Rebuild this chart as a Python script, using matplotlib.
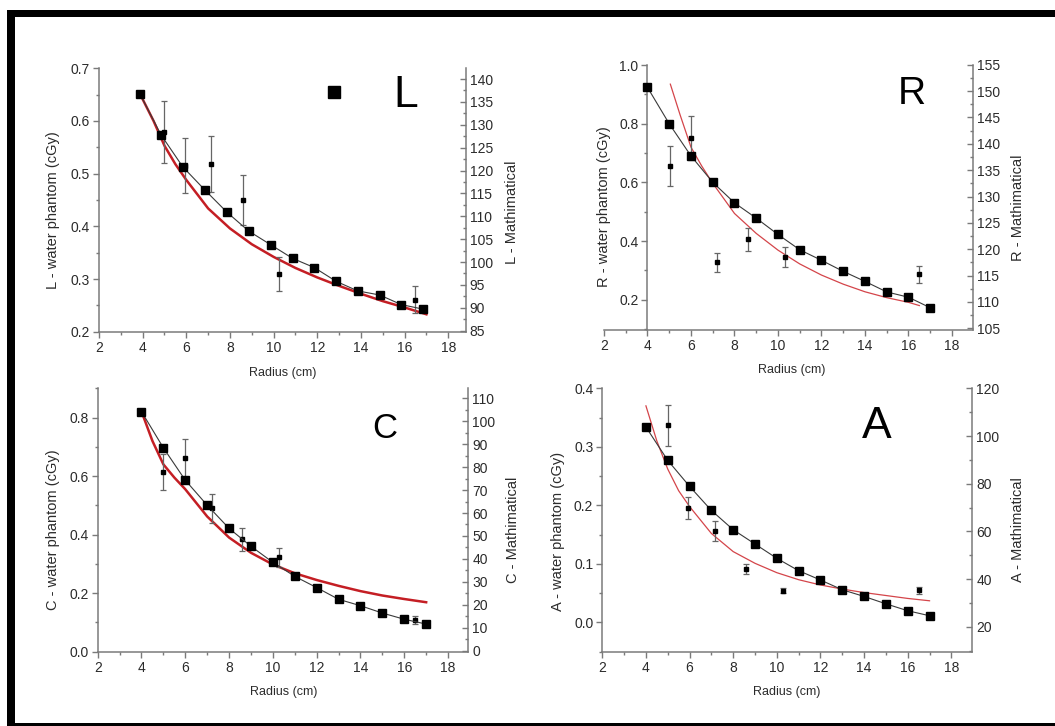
import matplotlib
matplotlib.use("Agg")
import matplotlib.pyplot as plt
from matplotlib.patches import Rectangle
from matplotlib.lines import Line2D
from matplotlib.ticker import MultipleLocator, FormatStrFormatter

plt.rcParams['font.family'] = ['Liberation Sans', 'DejaVu Sans']

# ---------------- data ----------------
radius = [4, 5, 6, 7, 8, 9, 10, 11, 12, 13, 14, 15, 16, 17]

# L panel
math_x_L = [3.87, 4.84, 5.84, 6.86, 7.86, 8.85, 9.86, 10.87, 11.86, 12.86, 13.85, 14.86, 15.85, 16.86]
math_L = [136.8, 127.8, 120.8, 115.7, 110.9, 106.8, 103.8, 100.8, 98.8, 95.8, 93.7, 92.8, 90.7, 89.7]
water_x_L = [5.0, 5.96, 7.15, 8.59, 10.26, 16.5]
water_L = [0.579, 0.515, 0.518, 0.450, 0.309, 0.261]
water_err_L = [0.059, 0.052, 0.053, 0.047, 0.032, 0.026]
fit_x_L = [3.87, 4.5, 5, 5.5, 6, 7, 8, 9, 10, 11, 12, 13, 14, 15, 16, 17]
fit_L = [0.652, 0.600, 0.553, 0.518, 0.488, 0.434, 0.396, 0.366, 0.342, 0.321,
         0.303, 0.287, 0.272, 0.258, 0.246, 0.233]

# R panel
math_R = [150.7, 143.8, 137.7, 132.7, 128.8, 125.9, 122.8, 119.9, 117.9, 115.8, 113.9, 111.9, 110.9, 108.9]
water_x_R = [5.02, 6.0, 7.2, 8.6, 10.3, 16.5]
water_R = [0.656, 0.750, 0.327, 0.406, 0.347, 0.287]
water_err_R = [0.068, 0.075, 0.033, 0.039, 0.034, 0.029]
fit_x_R = [5.05, 5.5, 6, 6.5, 7, 8, 9, 10, 11, 12, 13, 14, 15, 16, 16.5]
fit_R = [0.935, 0.83, 0.72, 0.655, 0.597, 0.494, 0.426, 0.369, 0.322, 0.284,
         0.253, 0.227, 0.207, 0.191, 0.18]

# C panel
math_C = [104.2, 88.4, 74.3, 63.4, 53.3, 45.5, 38.5, 32.4, 27.5, 22.4, 19.6, 16.4, 13.7, 11.6]
water_x_C = [5.0, 6.0, 7.2, 8.6, 10.3, 16.5]
water_C = [0.613, 0.661, 0.490, 0.384, 0.322, 0.108]
water_err_C = [0.062, 0.066, 0.050, 0.039, 0.034, 0.013]
fit_x_C = [4, 4.5, 5, 5.5, 6, 7, 8, 9, 10, 11, 12, 13, 14, 15, 16, 17]
fit_C = [0.821, 0.72, 0.64, 0.595, 0.555, 0.462, 0.39, 0.338, 0.298, 0.268,
         0.245, 0.225, 0.207, 0.192, 0.18, 0.169]

# A panel
math_A = [103.8, 89.8, 78.9, 68.8, 60.7, 54.7, 48.7, 43.5, 39.6, 35.5, 32.7, 29.6, 26.7, 24.6]
water_x_A = [5.0, 5.95, 7.15, 8.6, 10.3, 16.5]
water_A = [0.337, 0.195, 0.156, 0.091, 0.054, 0.055]
water_err_A = [0.035, 0.019, 0.017, 0.009, 0.0045, 0.006]
fit_x_A = [4, 4.5, 5, 5.5, 6, 7, 8, 9, 10, 11, 12, 13, 14, 15, 16, 17]
fit_A = [0.370, 0.31, 0.262, 0.225, 0.198, 0.152, 0.121, 0.101, 0.085, 0.073,
         0.064, 0.057, 0.051, 0.046, 0.041, 0.037]

# ---------------- figure ----------------
W, H = 1055, 726
fig = plt.figure(figsize=(W / 100, H / 100), dpi=100)
fig.patch.set_facecolor('white')

SPINE = '#7a7a7a'
TXT = '#2b2b2b'


def rect(l, t, r, b):
    return [l / W, 1 - b / H, (r - l) / W, (b - t) / H]


def panel(box, xlim, ylim, ylim2, lmaj, lmin, rmaj, rmin,
          mx, my, wx, wy, we, fx, fy, fit_color, fit_lw, left_spine_x=None):
    ax = fig.add_axes(rect(*box))
    ax2 = ax.twinx()
    ax.set_xlim(*xlim)
    ax.set_ylim(*ylim)
    ax2.set_ylim(*ylim2)
    for a in (ax, ax2):
        a.patch.set_visible(False)
        a.spines['top'].set_visible(False)
        for s in a.spines.values():
            s.set_color(SPINE)
            s.set_linewidth(1.1)
    ax.spines['right'].set_visible(False)
    ax2.spines['left'].set_visible(False)
    ax2.spines['bottom'].set_visible(False)
    if left_spine_x is not None:
        ax.spines['left'].set_position(('data', left_spine_x))
    ax.xaxis.set_major_locator(MultipleLocator(2))
    ax.xaxis.set_minor_locator(MultipleLocator(1))
    ax.yaxis.set_major_locator(MultipleLocator(lmaj))
    ax.yaxis.set_minor_locator(MultipleLocator(lmin))
    ax2.yaxis.set_major_locator(MultipleLocator(rmaj))
    ax2.yaxis.set_minor_locator(MultipleLocator(rmin))
    ax.tick_params(which='major', direction='out', length=4, width=1, color=SPINE,
                   labelsize=10, labelcolor=TXT, pad=2.5)
    ax.tick_params(which='minor', direction='out', length=2.5, width=1, color=SPINE)
    ax2.tick_params(which='major', direction='in', length=4, width=1, color=SPINE,
                    labelsize=10, labelcolor=TXT, pad=3)
    ax2.tick_params(which='minor', direction='in', length=2.5, width=1, color=SPINE)
    ax.yaxis.set_major_formatter(FormatStrFormatter('%.1f'))

    ax.plot(fx, fy, color=fit_color, lw=fit_lw, zorder=2, clip_on=False)
    ax.errorbar(wx, wy, yerr=we, fmt='s', ms=2.2, color='black', ecolor='#666666',
                elinewidth=0.9, capsize=2.5, capthick=0.9, zorder=3, clip_on=False)
    ax2.plot(mx, my, '-', color='#3a3a3a', lw=0.8, marker='s', ms=6.3,
             mfc='black', mec='black', zorder=4, clip_on=False)
    return ax, ax2


panel((99, 68.3, 465.7, 331.7), (2, 18.8), (0.2, 0.7), (84.78, 142.34),
      0.1, 0.05, 5, 2.5, math_x_L, math_L, water_x_L, water_L, water_err_L,
      fit_x_L, fit_L, '#c41e24', 1.8)
panel((604, 64.5, 973.3, 330), (2, 18.98), (0.0967, 1.002), (104.68, 155.05),
      0.2, 0.1, 5, 2.5, radius, math_R, water_x_R, water_R, water_err_R,
      fit_x_R, fit_R, '#d4454a', 0.9, left_spine_x=4)
panel((97.7, 388.3, 468.2, 651.7), (2, 18.92), (0.0, 0.9), (-0.44, 114.36),
      0.2, 0.1, 10, 5, radius, math_C, water_x_C, water_C, water_err_C,
      fit_x_C, fit_C, '#c41e24', 1.8)
panel((602.3, 388.3, 972.3, 651.7), (2, 18.96), (-0.05, 0.4), (9.51, 120.05),
      0.1, 0.05, 20, 10, radius, math_A, water_x_A, water_A, water_err_A,
      fit_x_A, fit_A, '#d4454a', 0.9)


def ftext(x, y, s, **kw):
    fig.text(x / W, 1 - y / H, s, **kw)


# axis labels
ylab = dict(rotation=90, ha='center', va='center', fontsize=10.5, color=TXT)
xlab = dict(ha='center', va='center', fontsize=9, color=TXT)
ftext(53, 210, 'L - water phantom (cGy)', **ylab)
ftext(512, 212, 'L - Mathimatical', **ylab)
ftext(283, 373, 'Radius (cm)', **xlab)
ftext(604, 207, 'R - water phantom (cGy)', **ylab)
ftext(1018, 208, 'R - Mathimatical', **ylab)
ftext(792, 370, 'Radius (cm)', **xlab)
ftext(53, 530, 'C - water phantom (cGy)', **ylab)
ftext(513, 530, 'C - Mathimatical', **ylab)
ftext(284, 692, 'Radius (cm)', **xlab)
ftext(558, 531, 'A - water phantom (cGy)', **ylab)
ftext(1018, 530, 'A - Mathimatical', **ylab)
ftext(787, 692, 'Radius (cm)', **xlab)

# panel letters
big = dict(ha='center', va='baseline', color='black')
ftext(406, 107, 'L', fontsize=32, **big)
ftext(912, 104, 'R', fontsize=28, **big)
ftext(385, 438, 'C', fontsize=25, **big)
ftext(877, 438, 'A', fontsize=32, **big)
fig.add_artist(Line2D([334 / W], [1 - 92 / H], marker='s', ms=8, color='black',
                      transform=fig.transFigure))

# black frame
for (x0, y0, x1, y1) in [(7, 10, 1055, 17), (7, 10, 15, 726), (7, 723, 1055, 725.5)]:
    fig.add_artist(Rectangle((x0 / W, 1 - y1 / H), (x1 - x0) / W, (y1 - y0) / H,
                             transform=fig.transFigure, color='black', lw=0))

fig.savefig('out.png', dpi=100)
